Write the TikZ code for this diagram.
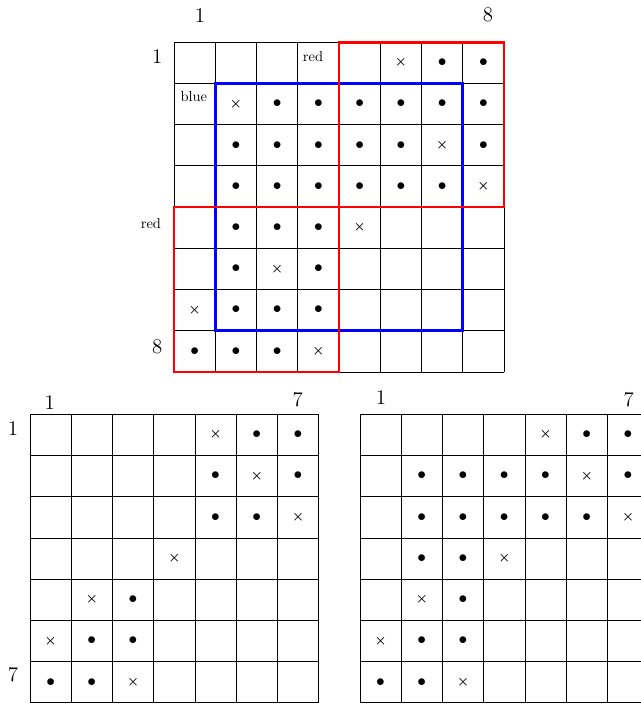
\documentclass[tikz,border=0pt]{standalone}
\usepackage{amsmath}
\usetikzlibrary{positioning}
\begin{document}
\begin{tikzpicture}[x=1cm,y=1cm,
  dot/.style={inner sep=0pt,font=\large},
  cross/.style={inner sep=0pt,font=\small},
  idx/.style={inner sep=1pt,font=\Large},
  tag/.style={inner sep=1pt,font=\normalsize},
  box/.style={line width=2pt}]
\clip (0,0) rectangle (15.54,17.07);
% top grid, 8x8
\begin{scope}[shift={(4.22,16.05)}]
\draw[line width=.4pt] (0,-8) grid (8,0);
\draw[box,blue] (1,-1) rectangle (7,-7);
\draw[box,red] (4,0) rectangle (8,-4);
\draw[box,red] (0,-4) rectangle (4,-8);
\foreach \r/\c in {1/7,1/8,2/3,2/4,2/5,2/6,2/7,2/8,3/2,3/3,3/4,3/5,3/6,3/8,
  4/2,4/3,4/4,4/5,4/6,4/7,5/2,5/3,5/4,6/2,6/4,7/2,7/3,7/4,8/1,8/2,8/3}
  \node[dot] (top-\r-\c) at (\c-.5,-\r+.5) {$\bullet$};
\foreach \r/\c in {1/6,2/2,3/7,4/8,5/5,6/3,7/1,8/4}
  \node[cross] (top-\r-\c) at (\c-.5,-\r+.5) {$\boldsymbol{\times}$};
\node[idx] (topcol1) at (.63,.65) {1};
\node[idx] (topcol8) at (7.61,.65) {8};
\node[idx] (toprow1) at (-.41,-.34) {1};
\node[idx] (toprow8) at (-.41,-7.40) {8};
\node[tag] (topred) at (3.37,-.34) {red};
\node[tag] (topblue) at (.48,-1.31) {blue};
\node[tag] (leftred) at (-.56,-4.41) {red};
\end{scope}
% bottom left grid, 7x7
\begin{scope}[shift={(.727,7.03)}]
\draw[line width=.4pt] (0,-7) grid (7,0);
\foreach \r/\c in {1/6,1/7,2/5,2/7,3/5,3/6,5/3,6/2,6/3,7/1,7/2}
  \node[dot] (bl-\r-\c) at (\c-.5,-\r+.5) {$\bullet$};
\foreach \r/\c in {1/5,2/6,3/7,4/4,5/2,6/1,7/3}
  \node[cross] (bl-\r-\c) at (\c-.5,-\r+.5) {$\boldsymbol{\times}$};
\node[idx] (blcol1) at (.48,.27) {1};
\node[idx] (blcol7) at (6.49,.34) {7};
\node[idx] (blrow1) at (-.41,-.34) {1};
\node[idx] (blrow7) at (-.41,-6.33) {7};
\end{scope}
% bottom right grid, 7x7
\begin{scope}[shift={(8.727,7.03)}]
\draw[line width=.4pt] (0,-7) grid (7,0);
\foreach \r/\c in {1/6,1/7,2/2,2/3,2/4,2/5,2/7,3/2,3/3,3/4,3/5,3/6,
  4/2,4/3,5/3,6/2,6/3,7/1,7/2}
  \node[dot] (br-\r-\c) at (\c-.5,-\r+.5) {$\bullet$};
\foreach \r/\c in {1/5,2/6,3/7,4/4,5/2,6/1,7/3}
  \node[cross] (br-\r-\c) at (\c-.5,-\r+.5) {$\boldsymbol{\times}$};
\node[idx] (brcol1) at (.51,.39) {1};
\node[idx] (brcol7) at (6.52,.34) {7};
\end{scope}
\end{tikzpicture}
\end{document}
